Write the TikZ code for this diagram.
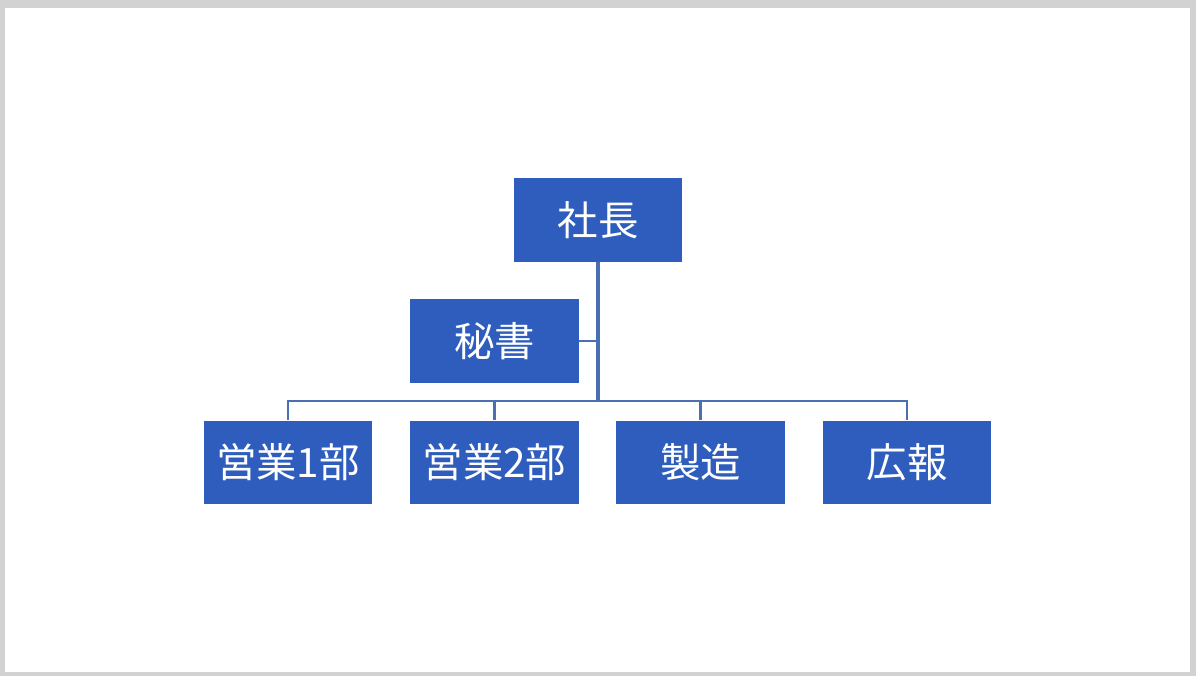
\documentclass[tikz,border=0pt]{standalone}
\usepackage{fontspec}
\newfontfamily\cjk{Noto Sans CJK JP}
\usetikzlibrary{positioning}
\definecolor{boxblue}{HTML}{2E5DBD}
\definecolor{lineblue}{HTML}{4A6FB3}
\tikzset{
    post/.style={fill=boxblue, text=white, minimum width=1.68cm, minimum height=0.83cm, inner sep=0pt, font=\cjk\fontsize{11.5}{12}\selectfont}, % one box of the chart
    link/.style={draw=lineblue, line width=0.6pt},
}
\begin{document}
\begin{tikzpicture}[x=0.01cm, y=-0.01cm]
    \fill[gray!35] (0,0) rectangle (1196,676);
    \fill[white] (5,8) rectangle (1190,672);
    \useasboundingbox (0,0) rectangle (1196,676);
    \node[post] (boss) at (598,220) {社長};
    \node[post] (sec) at (494.5,341) {秘書};
    \node[post] (d1) at (288,462.5) {営業1部};
    \node[post] (d2) at (494.5,462.5) {営業2部};
    \node[post] (mfg) at (700.5,462.5) {製造};
    \node[post] (pr) at (907,462.5) {広報};
    \coordinate (hub) at (598,401);
    \draw[link, line width=1pt] (boss.south) -- (hub);
    \draw[link] (sec.east) -- (sec.east -| hub);
    \draw[link] (d1.north) |- (hub) -| (pr.north);
    \draw[link] (d2.north) -- (d2.north |- hub);
    \draw[link] (mfg.north) -- (mfg.north |- hub);
\end{tikzpicture}
\end{document}
